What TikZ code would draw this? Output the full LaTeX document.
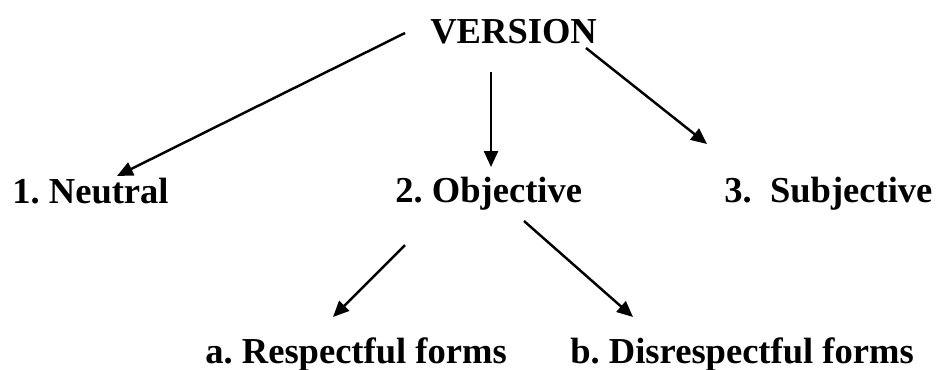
\documentclass[tikz,border=0pt]{standalone}
\usepackage{fontspec}
\setmainfont{Liberation Serif}
\usepackage{tikz}
\usetikzlibrary{arrows.meta, calc}
\frenchspacing

\tikzset{
  labeltext/.style={inner sep=0pt, anchor=base west, font=\fontsize{20.8}{25}\selectfont\bfseries},
  branch/.style={-{Triangle[length=0.32cm, width=0.28cm]}, line width=1.4pt},
}

\begin{document}
\begin{tikzpicture}[x=0.02cm, y=-0.02cm]
  \useasboundingbox (0,0) rectangle (939,369);
  % headword
  \node[labeltext] (version) at (430,43) {VERSION};
  % first level
  \node[labeltext] (neutral) at (12,203) {1. Neutral};
  \node[labeltext] (objective) at (395,202) {2. Objective};
  \node[labeltext] (subjective) at (724,202) {3.\ \ Subjective};
  % second level
  \node[labeltext] (respectful) at (205,363) {a. Respectful forms};
  \node[labeltext] (disrespectful) at (570,363) {b. Disrespectful forms};

  % arrows
  \draw[branch] ($(version.base west)+(-25,-10)$) -- ($(neutral.base west)+(105,-27)$);
  \draw[branch] ($(version.base west)+(61,29)$) -- ($(objective.base west)+(96,-35)$);
  \draw[branch] ($(version.base west)+(156,5)$) -- ($(subjective.base west)+(-17,-58)$);
  \draw[branch] ($(objective.base west)+(10,43)$) -- ($(respectful.base west)+(128,-46)$);
  \draw[branch] ($(objective.base west)+(129,19)$) -- ($(disrespectful.base west)+(63,-46)$);
\end{tikzpicture}
\end{document}
